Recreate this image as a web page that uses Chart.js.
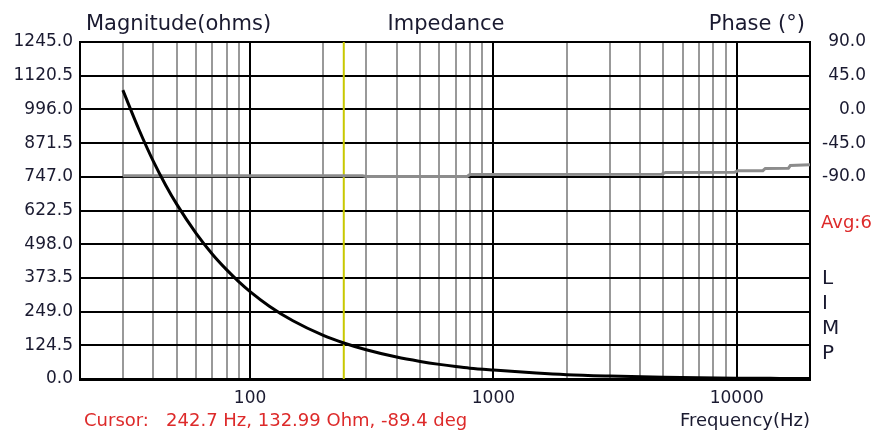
<!DOCTYPE html>
<html>
<head>
<meta charset="utf-8">
<title>Impedance</title>
<script src="https://cdn.jsdelivr.net/npm/chart.js"></script>
<style>
    html, body { margin: 0; padding: 0; background: #fff; }
    canvas { display: block; }
</style>
</head>
<body>
<canvas id="impChart" width="875" height="433"></canvas>
<script>
// --- DATA ---
const freqs = [30, 35, 40, 45, 50, 60, 70, 80, 90, 100, 120, 150, 200, 242.7, 300, 400, 500, 600, 700, 800, 1000, 1500, 2000, 3000, 5000, 7000, 10000, 15000, 20000];
const magnitude = [1067, 920, 805, 716, 645, 538, 461, 404, 359, 323, 269, 215, 161, 133, 108, 81, 65, 54, 46, 40, 33, 22, 16, 11, 6.5, 4.6, 3.2, 2.2, 1.6];

const phaseFreqs = [30, 290, 300, 780, 800, 4900, 5100, 9800, 10100, 12800, 13100, 16300, 16600, 20000];
const phase = [-88.6, -88.7, -89.6, -89.6, -87.0, -86.7, -84.2, -84.0, -82.0, -81.8, -78.9, -78.6, -75.0, -74.0];

const gridFreqs = [20, 30, 40, 50, 60, 70, 80, 90, 100, 200, 300, 400, 500, 600, 700, 800, 900,
    1000, 2000, 3000, 4000, 5000, 6000, 7000, 8000, 9000, 10000, 20000];
const freqLabels = [100, 1000, 10000];
const magTicks = [0, 124.5, 249, 373.5, 498, 622.5, 747, 871.5, 996, 1120.5, 1245];
const phaseTicks = [90, 45, 0, -45, -90];
const cursorFreq = 242.7;

const FONT = 'DejaVu Sans';
const TEXT = '#1a1a30';
const RED = '#dd2a2a';

// --- TEXT AROUND THE PLOT ---
const labelsPlugin = {
    id: 'labels',
    afterDraw(chart) {
        const ctx = chart.ctx;
        const a = chart.chartArea;
        ctx.save();
        ctx.textBaseline = 'alphabetic';
        ctx.fillStyle = TEXT;
        ctx.font = '21px "' + FONT + '"';
        ctx.textAlign = 'left';
        ctx.fillText('Magnitude(ohms)', a.left + 6, 30);
        ctx.textAlign = 'center';
        ctx.fillText('Impedance', 446, 30);
        ctx.textAlign = 'right';
        ctx.fillText('Phase (°)', a.right - 5, 30);

        ctx.font = '18px "' + FONT + '"';
        ctx.textAlign = 'right';
        ctx.fillText('Frequency(Hz)', a.right, 426);
        ctx.fillStyle = RED;
        ctx.textAlign = 'left';
        ctx.fillText('Cursor:   242.7 Hz, 132.99 Ohm, -89.4 deg', a.left + 4, 426);
        ctx.fillText('Avg:6', a.right + 11, 228);

        ctx.fillStyle = TEXT;
        ctx.font = '20px "' + FONT + '"';
        ['L', 'I', 'M', 'P'].forEach((ch, i) => ctx.fillText(ch, a.right + 12, 284 + i * 25));
        ctx.restore();
    }
};

const ctx = document.getElementById('impChart').getContext('2d');
new Chart(ctx, {
    type: 'line',
    data: {
        datasets: [
            {
                label: 'Magnitude',
                data: freqs.map((f, i) => ({ x: f, y: magnitude[i] })),
                yAxisID: 'y',
                borderColor: '#000',
                borderWidth: 3,
                pointRadius: 0,
                cubicInterpolationMode: 'monotone',
                order: 0
            },
            {
                label: 'Phase',
                data: phaseFreqs.map((f, i) => ({ x: f, y: phase[i] })),
                yAxisID: 'y1',
                borderColor: '#8c8c8c',
                borderWidth: 3,
                pointRadius: 0,
                order: 1
            },
            {
                label: 'Cursor',
                data: [{ x: cursorFreq, y: magTicks[0] }, { x: cursorFreq, y: magTicks[magTicks.length - 1] }],
                yAxisID: 'y',
                borderColor: '#c8c800',
                borderWidth: 2,
                pointRadius: 0,
                order: 2
            }
        ]
    },
    options: {
        responsive: false,
        animation: false,
        devicePixelRatio: 1,
        layout: { padding: { top: 42, right: 9, left: 0, bottom: 0 } },
        plugins: { legend: { display: false }, tooltip: { enabled: false } },
        scales: {
            x: {
                type: 'logarithmic',
                min: 20,
                max: 20000,
                afterBuildTicks: s => { s.ticks = gridFreqs.map(v => ({ value: v })); },
                afterFit: s => { s.height = 54; },
                grid: {
                    color: c => (freqLabels.includes(c.tick.value) || c.index === 0 || c.index === gridFreqs.length - 1) ? '#000' : '#999',
                    lineWidth: 2,
                    drawTicks: false
                },
                border: { display: true, color: '#000', width: 3 },
                ticks: {
                    autoSkip: false,
                    maxRotation: 0,
                    padding: 9,
                    color: TEXT,
                    font: { family: FONT, size: 17 },
                    callback: v => freqLabels.includes(v) ? String(v) : ''
                }
            },
            y: {
                position: 'left',
                min: 0,
                max: 1245,
                afterBuildTicks: s => { s.ticks = magTicks.map(v => ({ value: v })); },
                afterFit: s => { s.width = 80; },
                grid: { color: '#000', lineWidth: 2, drawTicks: false },
                border: { display: true, color: '#000', width: 2 },
                ticks: {
                    autoSkip: false,
                    padding: 7,
                    color: TEXT,
                    font: { family: FONT, size: 17 },
                    callback: v => v.toFixed(1)
                }
            },
            y1: {
                position: 'right',
                min: -360,
                max: 90,
                afterBuildTicks: s => { s.ticks = phaseTicks.map(v => ({ value: v })); },
                afterFit: s => { s.width = 56; },
                grid: { display: false, drawTicks: false },
                border: { display: true, color: '#000', width: 2 },
                ticks: {
                    autoSkip: false,
                    crossAlign: 'far',
                    color: TEXT,
                    font: { family: FONT, size: 17 },
                    callback: v => v.toFixed(1)
                }
            }
        }
    },
    plugins: [labelsPlugin]
});
</script>
</body>
</html>
